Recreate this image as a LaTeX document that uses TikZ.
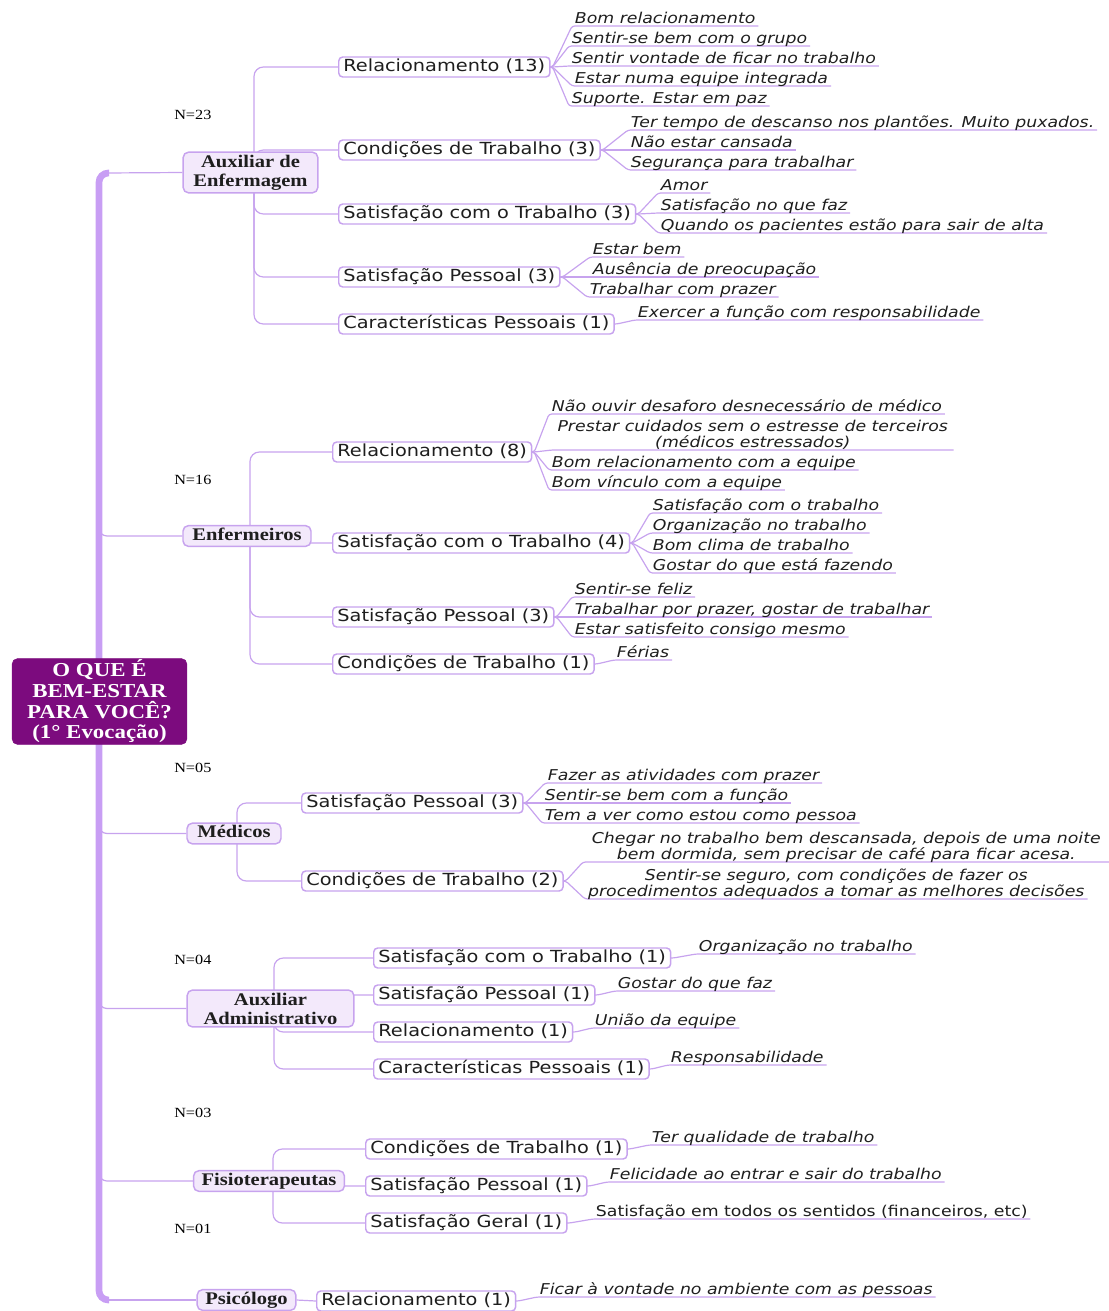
\documentclass[tikz,border=0pt]{standalone}
\usepackage{fontspec}
\newfontfamily\subf[FakeStretch=1.16]{DejaVu Sans}
\newfontfamily\leaff[FakeStretch=1.16]{DejaVu Sans Oblique}
\newfontfamily\catf[FakeStretch=1.16]{Liberation Serif}
\pgfdeclarelayer{bg}
\pgfsetlayers{bg,main}
\definecolor{lav}{HTML}{C7A3EE}
\definecolor{trunkc}{HTML}{C89EF4}
\definecolor{catfill}{HTML}{F3E9FB}
\definecolor{rootfill}{HTML}{7C0B7E}
\definecolor{txt}{HTML}{1E1E1E}
\tikzset{
 conn/.style={draw=lav, line width=0.9pt},
 subnode/.style={draw=lav, line width=1.1pt, fill=white, rounded corners=3pt,
   font=\subf\fontsize{12.5}{14}\selectfont, text=txt, inner xsep=3.5pt,
   inner ysep=1.5pt, text height=9.3pt, text depth=2.7pt, anchor=west},
 catnode/.style={draw=lav, line width=1.1pt, fill=catfill, rounded corners=4pt,
   font=\catf\bfseries\fontsize{13.3}{14.3}\selectfont, text=txt,
   inner xsep=6pt, inner ysep=2pt, align=center},
 catone/.style={text height=9pt, text depth=2.5pt},
 leafnode/.style={font=\leaff\fontsize{11.2}{12}\selectfont, text=txt,
   inner xsep=2pt, inner ysep=2pt, text depth=0pt, anchor=south west},
 leafmulti/.style={leafnode, align=center, inner xsep=0pt},
 nlabel/.style={font=\catf\fontsize{10.5}{12}\selectfont, anchor=west, inner sep=0pt},
 rootnode/.style={draw=rootfill, fill=rootfill, rounded corners=4pt, text=white,
   font=\catf\bfseries\fontsize{14.8}{15.5}\selectfont, align=center,
   minimum width=131pt, minimum height=62pt, inner sep=1pt},
}
\newcommand{\lf}[3]{\draw[conn, rounded corners=2pt] (#1.east) -- ++(2,0) -- (#2.south west) -- (#2.south east);}
\begin{document}
\begin{tikzpicture}[x=0.75pt,y=-0.75pt]
\useasboundingbox (0,0) rectangle (1109,1311);
% root
\node[rootnode] (root) at (99.5,701.5) {O QUE É\\BEM-ESTAR\\PARA VOCÊ?\\(1° Evocação)};
% categories
\node[catnode, minimum width=101pt] (ae) at (250.5,172.5) {Auxiliar de\\Enfermagem};
\node[catnode,catone, minimum width=96pt] (enf) at (247,536) {Enfermeiros};
\node[catnode,catone, minimum width=70.5pt] (med) at (234,833.5) {Médicos};
\node[catnode, minimum width=125pt] (aa) at (270.5,1008.5) {Auxiliar\\Administrativo};
\node[catnode,catone, minimum width=111pt] (fis) at (269,1181) {Fisioterapeutas};
\node[catnode,catone, minimum width=74pt] (psi) at (246.5,1300) {Psicólogo};
% N labels
\node[nlabel] (n1) at (174,115) {N=23};
\node[nlabel] (n2) at (174,480) {N=16};
\node[nlabel] (n3) at (174,768) {N=05};
\node[nlabel] (n4) at (174,960) {N=04};
\node[nlabel] (n5) at (174,1113) {N=03};
\node[nlabel] (n6) at (174,1229) {N=01};
% subs
\node[subnode] (ae1) at (338,67) {Relacionamento (13)};
\node[subnode] (ae2) at (338,150) {Condições de Trabalho (3)};
\node[subnode] (ae3) at (338,214) {Satisfação com o Trabalho (3)};
\node[subnode] (ae4) at (338,277) {Satisfação Pessoal (3)};
\node[subnode] (ae5) at (338,324) {Características Pessoais (1)};
\node[subnode] (en1) at (332,452) {Relacionamento (8)};
\node[subnode] (en2) at (332,543) {Satisfação com o Trabalho (4)};
\node[subnode] (en3) at (332,617) {Satisfação Pessoal (3)};
\node[subnode] (en4) at (332,664) {Condições de Trabalho (1)};
\node[subnode] (me1) at (301,803) {Satisfação Pessoal (3)};
\node[subnode] (me2) at (301,881) {Condições de Trabalho (2)};
\node[subnode] (aa1) at (373,958) {Satisfação com o Trabalho (1)};
\node[subnode] (aa2) at (373,995) {Satisfação Pessoal (1)};
\node[subnode] (aa3) at (373,1032) {Relacionamento (1)};
\node[subnode] (aa4) at (373,1069) {Características Pessoais (1)};
\node[subnode] (fi1) at (365,1149) {Condições de Trabalho (1)};
\node[subnode] (fi2) at (365,1186) {Satisfação Pessoal (1)};
\node[subnode] (fi3) at (365,1223) {Satisfação Geral (1)\hspace{8pt}};
\node[subnode] (ps1) at (316,1301) {Relacionamento (1)};
% leaves
\node[leafnode] (a11) at (572,26) {Bom relacionamento};
\node[leafnode] (a12) at (569,46) {Sentir-se bem com o grupo};
\node[leafnode] (a13) at (569,66) {Sentir vontade de ficar no trabalho};
\node[leafnode] (a14) at (572,86) {Estar numa equipe integrada};
\node[leafnode] (a15) at (569,106) {Suporte. Estar em paz};
\node[leafnode] (a21) at (628,130) {Ter tempo de descanso nos plantões. Muito puxados.};
\node[leafnode] (a22) at (628,150) {Não estar cansada};
\node[leafnode] (a23) at (628,170) {Segurança para trabalhar};
\node[leafnode] (a31) at (658,193) {Amor};
\node[leafnode] (a32) at (658,213) {Satisfação no que faz};
\node[leafnode] (a33) at (658,233) {Quando os pacientes estão para sair de alta};
\node[leafnode] (a41) at (590,257) {Estar bem};
\node[leafnode] (a42) at (590,277) {Ausência de preocupação};
\node[leafnode] (a43) at (587,297) {Trabalhar com prazer};
\node[leafnode] (a51) at (635,320) {Exercer a função com responsabilidade};
\node[leafnode] (e11) at (549,414) {Não ouvir desaforo desnecessário de médico};
\node[leafmulti, minimum width=300.75pt] (e12) at (552,450) {Prestar cuidados sem o estresse de terceiros\\(médicos estressados)};
\node[leafnode] (e13) at (549,470) {Bom relacionamento com a equipe};
\node[leafnode] (e14) at (549,490) {Bom vínculo com a equipe};
\node[leafnode] (e21) at (650,513) {Satisfação com o trabalho};
\node[leafnode] (e22) at (650,533) {Organização no trabalho};
\node[leafnode] (e23) at (650,553) {Bom clima de trabalho};
\node[leafnode] (e24) at (650,573) {Gostar do que está fazendo};
\node[leafnode] (e31) at (572,597) {Sentir-se feliz};
\node[leafnode] (e32) at (572,617) {Trabalhar por prazer, gostar de trabalhar};
\node[leafnode] (e33) at (572,637) {Estar satisfeito consigo mesmo};
\node[leafnode] (e41) at (614,660) {Férias};
\node[leafnode] (m11) at (545,783) {Fazer as atividades com prazer};
\node[leafnode] (m12) at (542,803) {Sentir-se bem com a função};
\node[leafnode] (m13) at (542,823) {Tem a ver como estou como pessoa};
\node[leafmulti, minimum width=394.5pt] (m21) at (583,862) {Chegar no trabalho bem descansada, depois de uma noite\\bem dormida, sem precisar de café para ficar acesa.};
\node[leafmulti, minimum width=376.5pt] (m22) at (585,899) {Sentir-se seguro, com condições de fazer os\\procedimentos adequados a tomar as melhores decisões};
\node[leafnode] (b11) at (696,954) {Organização no trabalho};
\node[leafnode] (b21) at (615,991) {Gostar do que faz};
\node[leafnode] (b31) at (592,1028) {União da equipe};
\node[leafnode] (b41) at (668,1065) {Responsabilidade};
\node[leafnode] (f11) at (649,1145) {Ter qualidade de trabalho};
\node[leafnode] (f21) at (607,1182) {Felicidade ao entrar e sair do trabalho};
\node[leafnode, font=\subf\fontsize{11.2}{12}\selectfont] (f31) at (593,1219) {Satisfação em todos os sentidos (financeiros, etc)};
\node[leafnode] (p11) at (537,1297) {Ficar à vontade no ambiente com as pessoas};
% connectors
\begin{pgfonlayer}{bg}
\draw[conn] (105,173) -- (ae.west);
\draw[conn] (105,1300) -- (psi.west);
\draw[conn, rounded corners=6pt] (99,515) |- (enf.west);
\draw[conn, rounded corners=6pt] (99,815) |- (med.west);
\draw[conn, rounded corners=6pt] (99,990) |- (aa.west);
\draw[conn, rounded corners=6pt] (99,1165) |- (fis.west);
\draw[trunkc, line width=5pt, rounded corners=7pt] (109,173) -| (99,1300) -- (109,1300);
\foreach \s in {ae1,ae2,ae3,ae4,ae5}{\draw[conn, rounded corners=7pt] (254,172) |- (\s.west);}
\foreach \s in {en1,en2,en3,en4}{\draw[conn, rounded corners=7pt] (250,536) |- (\s.west);}
\foreach \s in {me1,me2}{\draw[conn, rounded corners=7pt] (237,833) |- (\s.west);}
\foreach \s in {aa1,aa2,aa3,aa4}{\draw[conn, rounded corners=7pt] (274,1008) |- (\s.west);}
\foreach \s in {fi1,fi2,fi3}{\draw[conn, rounded corners=7pt] (273,1181) |- (\s.west);}
\draw[conn] (psi.east) -- (ps1.west);
\foreach \l in {a11,a12,a13,a14,a15}{\lf{ae1}{\l}{}}
\foreach \l in {a21,a22,a23}{\lf{ae2}{\l}{}}
\foreach \l in {a31,a32,a33}{\lf{ae3}{\l}{}}
\foreach \l in {a41,a42,a43}{\lf{ae4}{\l}{}}
\lf{ae5}{a51}{}
\foreach \l in {e11,e12,e13,e14}{\lf{en1}{\l}{}}
\foreach \l in {e21,e22,e23,e24}{\lf{en2}{\l}{}}
\foreach \l in {e31,e32,e33}{\lf{en3}{\l}{}}
\lf{en4}{e41}{}
\foreach \l in {m11,m12,m13}{\lf{me1}{\l}{}}
\foreach \l in {m21,m22}{\lf{me2}{\l}{}}
\lf{aa1}{b11}{}
\lf{aa2}{b21}{}
\lf{aa3}{b31}{}
\lf{aa4}{b41}{}
\lf{fi1}{f11}{}
\lf{fi2}{f21}{}
\lf{fi3}{f31}{}
\lf{ps1}{p11}{}
\end{pgfonlayer}
\end{tikzpicture}
\end{document}
